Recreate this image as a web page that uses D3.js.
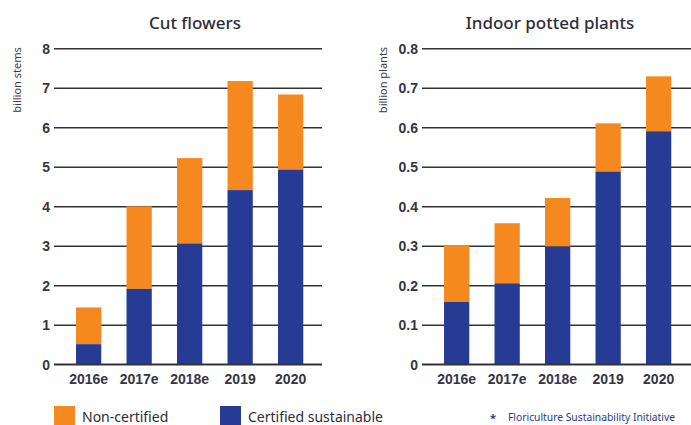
<!DOCTYPE html>
<html>
<head>
<meta charset="utf-8">
<script src="https://cdn.jsdelivr.net/npm/d3@7"></script>
<style>
  body { margin: 0; background: #fff; }
  svg { display: block; font-family: "Noto Sans", sans-serif; }
  .axis text { font-size: 14px; font-weight: 600; fill: #353545; }
  .axis line { stroke: #333; stroke-width: 1.4; }
  .title { font-size: 17px; font-weight: 500; fill: #2d2d3a; }
  .unit { font-size: 11px; fill: #3a3a4a; }
</style>
</head>
<body>
<div id="chart"></div>
<script>
const years = ["2016e", "2017e", "2018e", "2019", "2020"];

// cut flowers, billion stems
const flowersCertified = [0.51, 1.91, 3.06, 4.41, 4.93];
const flowersTotal = [1.44, 4.0, 5.22, 7.17, 6.83];
const flowersTicks = [0, 1, 2, 3, 4, 5, 6, 7, 8];

// indoor potted plants, billion plants
const plantsCertified = [0.158, 0.205, 0.298, 0.488, 0.59];
const plantsTotal = [0.30, 0.357, 0.421, 0.61, 0.729];
const plantsTicks = [0, 0.1, 0.2, 0.3, 0.4, 0.5, 0.6, 0.7, 0.8];

const legendLabels = ["Non-certified", "Certified sustainable"];
const orange = "#f5881f";
const blue = "#253b94";

const width = 691, height = 425;
const svg = d3.select("#chart")
  .append("svg")
  .attr("width", width)
  .attr("height", height);

function drawPanel(opts) {
  const x = d3.scaleBand()
    .domain(years)
    .range(opts.xRange)
    .paddingInner(0.5)
    .paddingOuter(0.25);

  const y = d3.scaleLinear()
    .domain([0, opts.max])
    .range([364.3, 48.3]);

  const yAxis = d3.axisLeft(y)
    .tickValues(opts.ticks)
    .tickSize(-(opts.gridEnd - opts.axisX))
    .tickPadding(4)
    .tickFormat(opts.format);

  svg.append("g")
    .attr("class", "axis")
    .attr("transform", `translate(${opts.axisX},0)`)
    .call(yAxis)
    .call(g => g.select(".domain").remove())
    .call(g => g.selectAll("text").attr("dy", "0.36em"));

  const rows = years.map((yr, i) => ({
    year: yr,
    cert: opts.certified[i],
    total: opts.total[i]
  }));

  const bars = svg.append("g").attr("class", "bars");

  // non-certified part on top
  bars.selectAll(".non")
    .data(rows)
    .enter()
    .append("rect")
    .attr("class", "non")
    .attr("x", d => x(d.year))
    .attr("y", d => y(d.total))
    .attr("width", x.bandwidth())
    .attr("height", d => y(d.cert) - y(d.total))
    .attr("fill", orange);

  bars.selectAll(".cert")
    .data(rows)
    .enter()
    .append("rect")
    .attr("class", "cert")
    .attr("x", d => x(d.year))
    .attr("y", d => y(d.cert))
    .attr("width", x.bandwidth())
    .attr("height", d => y(0) - y(d.cert))
    .attr("fill", blue);

  // redraw the zero line over the bars
  svg.append("line")
    .attr("x1", opts.axisX)
    .attr("x2", opts.gridEnd)
    .attr("y1", y(0))
    .attr("y2", y(0))
    .attr("stroke", "#333")
    .attr("stroke-width", 1.4);

  const xAxis = d3.axisBottom(x).tickSize(0).tickPadding(10);
  svg.append("g")
    .attr("class", "axis")
    .attr("transform", `translate(0,${y(0)})`)
    .call(xAxis)
    .call(g => g.select(".domain").remove());

  svg.append("text")
    .attr("class", "title")
    .attr("x", opts.titleX)
    .attr("y", 29)
    .attr("text-anchor", "middle")
    .text(opts.title);

  svg.append("text")
    .attr("class", "unit")
    .attr("transform", `translate(${opts.unitX},80) rotate(-90)`)
    .attr("text-anchor", "middle")
    .text(opts.unit);
}

drawPanel({
  title: "Cut flowers",
  titleX: 195,
  unit: "billion stems",
  unitX: 21,
  certified: flowersCertified,
  total: flowersTotal,
  ticks: flowersTicks,
  max: 8,
  format: d3.format("d"),
  axisX: 54,
  gridEnd: 322,
  xRange: [63.4, 315.9]
});

drawPanel({
  title: "Indoor potted plants",
  titleX: 550,
  unit: "billion plants",
  unitX: 387,
  certified: plantsCertified,
  total: plantsTotal,
  ticks: plantsTicks,
  max: 0.8,
  format: d => d === 0 ? "0" : d3.format(".1f")(d),
  axisX: 422,
  gridEnd: 700,
  xRange: [431.4, 683.9]
});

// legend
const legend = svg.append("g").attr("class", "legend");
const legendX = [54, 220];
const legendColors = [orange, blue];
legend.selectAll("rect")
  .data(legendLabels)
  .enter()
  .append("rect")
  .attr("x", (d, i) => legendX[i])
  .attr("y", 406)
  .attr("width", 21)
  .attr("height", 22)
  .attr("fill", (d, i) => legendColors[i]);

legend.selectAll("text")
  .data(legendLabels)
  .enter()
  .append("text")
  .attr("x", (d, i) => legendX[i] + 28)
  .attr("y", 421.5)
  .attr("font-size", 14)
  .attr("fill", "#2d2d3a")
  .text(d => d);

svg.append("text")
  .attr("x", 490)
  .attr("y", 422)
  .attr("font-size", 11)
  .attr("font-weight", 700)
  .attr("fill", "#2a3a8c")
  .text("*");

svg.append("text")
  .attr("x", 508)
  .attr("y", 421)
  .attr("font-size", 10.3)
  .attr("fill", "#2a3a8c")
  .text("Floriculture Sustainability Initiative");
</script>
</body>
</html>
